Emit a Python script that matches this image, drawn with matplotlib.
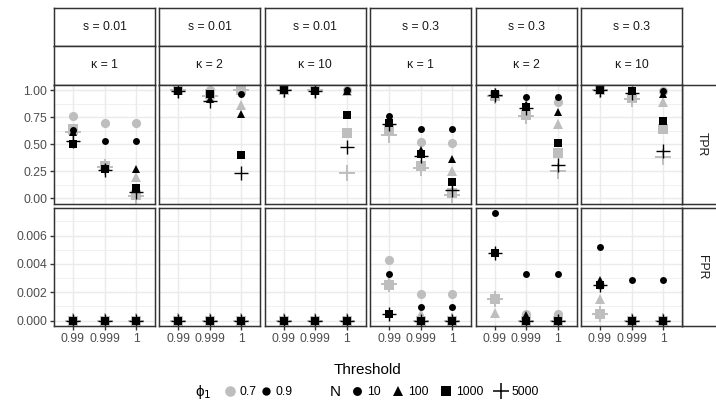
import numpy as np
import matplotlib.pyplot as plt
from matplotlib.lines import Line2D
from matplotlib.ticker import FixedLocator

plt.rcParams['font.family'] = ['Liberation Sans', 'DejaVu Sans']

thresholds = ['0.99', '0.999', '1']
s_labels = ['s = 0.01', 's = 0.01', 's = 0.01', 's = 0.3', 's = 0.3', 's = 0.3']
k_labels = ['κ = 1', 'κ = 2', 'κ = 10', 'κ = 1', 'κ = 2', 'κ = 10']
n_levels = ['10', '100', '1000', '5000']
phi_levels = ['0.7', '0.9']

# panel x N (10, 100, 1000, 5000) x threshold (0.99, 0.999, 1)
tpr_07 = np.array([
    [[0.76, 0.70, 0.70], [0.63, 0.30, 0.20], [0.64, 0.30, 0.03], [0.61, 0.29, 0.02]],
    [[1.00, 1.00, 1.00], [1.00, 0.94, 0.86], [1.00, 0.97, 1.00], [1.00, 0.95, 1.00]],
    [[1.00, 1.00, 1.00], [1.00, 1.00, 0.99], [1.00, 1.00, 0.60], [1.00, 1.00, 0.23]],
    [[0.67, 0.52, 0.51], [0.63, 0.30, 0.25], [0.63, 0.30, 0.05], [0.59, 0.28, 0.03]],
    [[0.96, 0.80, 0.89], [0.95, 0.77, 0.69], [0.95, 0.77, 0.42], [0.95, 0.76, 0.25]],
    [[1.00, 0.95, 0.99], [1.00, 0.93, 0.89], [1.00, 0.93, 0.64], [1.00, 0.92, 0.38]],
])
tpr_09 = np.array([
    [[0.63, 0.53, 0.53], [0.61, 0.28, 0.27], [0.50, 0.27, 0.09], [0.53, 0.26, 0.06]],
    [[1.00, 0.98, 0.97], [0.99, 0.92, 0.78], [0.99, 0.97, 0.40], [0.99, 0.90, 0.23]],
    [[1.00, 1.00, 1.00], [1.00, 1.00, 0.99], [1.00, 0.99, 0.77], [1.00, 0.99, 0.47]],
    [[0.76, 0.64, 0.64], [0.73, 0.45, 0.36], [0.70, 0.41, 0.145], [0.69, 0.39, 0.075]],
    [[0.97, 0.94, 0.94], [0.97, 0.86, 0.80], [0.97, 0.85, 0.51], [0.96, 0.84, 0.305]],
    [[1.00, 0.99, 0.99], [1.00, 0.99, 0.97], [1.00, 0.99, 0.72], [1.00, 0.98, 0.44]],
])
fpr_07 = np.array([
    [[0, 0, 0], [0, 0, 0], [0, 0, 0], [0, 0, 0]],
    [[0, 0, 0], [0, 0, 0], [0, 0, 0], [0, 0, 0]],
    [[0, 0, 0], [0, 0, 0], [0, 0, 0], [0, 0, 0]],
    [[0.0043, 0.0019, 0.0019], [0.0027, 0.0005, 0], [0.0025, 0, 0], [0.0026, 0, 0]],
    [[0.0015, 0.0005, 0.0005], [0.00054, 0, 0], [0.0015, 0, 0], [0.0015, 0, 0]],
    [[0.0025, 0, 0], [0.0015, 0, 0], [0.0005, 0, 0], [0.0005, 0, 0]],
])
fpr_09 = np.array([
    [[0, 0, 0], [0, 0, 0], [0, 0, 0], [0, 0, 0]],
    [[0, 0, 0], [0, 0, 0], [0, 0, 0], [0, 0, 0]],
    [[0, 0, 0], [0, 0, 0], [0, 0, 0], [0, 0, 0]],
    [[0.0033, 0.00097, 0.00097], [0.0005, 0, 0], [0.0005, 0, 0], [0.0005, 0, 0]],
    [[0.0076, 0.0033, 0.0033], [0.0048, 0.0004, 0], [0.0048, 0, 0], [0.0048, 0, 0]],
    [[0.0052, 0.0029, 0.0029], [0.0029, 0, 0], [0.0025, 0, 0], [0.0025, 0, 0]],
])

W, H = 716, 401
fig = plt.figure(figsize=(W / 100, H / 100), dpi=100)


def box(left, top, w, h):
    return [left / W, 1 - (top + h) / H, w / W, h / H]


BORDER = '#333333'
GRID = '#EBEBEB'
TICKC = '#4D4D4D'
colors = {'0.7': '#BEBEBE', '0.9': 'black'}
markers = ['o', '^', 's', '+']
sizes = {'0.7': [6.6, 7.6, 6.8, 11.5], '0.9': [5.0, 6.0, 5.3, 9.5]}
mews = {'0.7': 1.4, '0.9': 1.0}

lefts = [54 + i * 105.4 for i in range(6)]
pw = 101
rows = [(85, 118.5), (207.5, 118.5)]
x = np.arange(1, len(thresholds) + 1)


def strip(rect, text, rot=0):
    a = fig.add_axes(rect)
    a.set_xticks([])
    a.set_yticks([])
    for sp in a.spines.values():
        sp.set_color(BORDER)
        sp.set_linewidth(1.07)
    a.text(0.5, 0.5, text, transform=a.transAxes, ha='center', va='center',
           fontsize=8.8, color='#1A1A1A', rotation=rot)
    return a


for i in range(6):
    strip(box(lefts[i], 8, pw, 38), s_labels[i])
    strip(box(lefts[i], 46, pw, 39), k_labels[i])

fpr_max = max(fpr_07.max(), fpr_09.max())
for r, (metric, d07, d09) in enumerate([('TPR', tpr_07, tpr_09), ('FPR', fpr_07, fpr_09)]):
    top, h = rows[r]
    strip(box(682, top, 40, h), metric, rot=-90)
    for i in range(6):
        ax = fig.add_axes(box(lefts[i], top, pw, h))
        for phi, d in [('0.7', d07), ('0.9', d09)]:
            for k in range(len(n_levels)):
                ax.plot(x, d[i, k], ls='none', marker=markers[k], ms=sizes[phi][k],
                        color=colors[phi], mew=mews[phi] if markers[k] == '+' else 0,
                        zorder=3)
        ax.set_xlim(0.4, 3.6)
        if metric == 'TPR':
            ax.set_ylim(-0.05, 1.05)
            ax.yaxis.set_major_locator(FixedLocator([0, 0.25, 0.5, 0.75, 1.0]))
            ax.yaxis.set_minor_locator(FixedLocator([0.125, 0.375, 0.625, 0.875]))
            ylabels = ['0.00', '0.25', '0.50', '0.75', '1.00']
        else:
            ax.set_ylim(-0.05 * fpr_max, 1.05 * fpr_max)
            ax.yaxis.set_major_locator(FixedLocator([0, 0.002, 0.004, 0.006]))
            ax.yaxis.set_minor_locator(FixedLocator([0.001, 0.003, 0.005, 0.007]))
            ylabels = ['0.000', '0.002', '0.004', '0.006']
        ax.set_xticks(x)
        ax.grid(True, which='major', color=GRID, lw=1.07, zorder=0)
        ax.grid(True, which='minor', axis='y', color=GRID, lw=0.53, zorder=0)
        ax.set_axisbelow(True)
        for sp in ax.spines.values():
            sp.set_color(BORDER)
            sp.set_linewidth(1.07)
            sp.set_zorder(4)
        ax.tick_params(which='minor', length=0)
        ax.tick_params(which='major', length=3, width=1.0, color=BORDER,
                       labelsize=8.8, labelcolor=TICKC, pad=2)
        if i == 0:
            ax.set_yticklabels(ylabels)
        else:
            ax.tick_params(axis='y', length=0, labelleft=False)
        if r == 1:
            ax.set_xticklabels(thresholds)
        else:
            ax.tick_params(axis='x', length=0, labelbottom=False)

fig.text(368 / W, 1 - 370 / H, 'Threshold', ha='center', va='center', fontsize=11)

# legends
fig.text(203 / W, 1 - 392 / H, 'ϕ$_1$', ha='center', va='center', fontsize=11)
phi_handles = [Line2D([], [], ls='none', marker='o', ms=sizes[p][0], color=colors[p])
               for p in phi_levels]
fig.legend(phi_handles, phi_levels, ncol=2, frameon=False, fontsize=8.8,
           loc='center left', bbox_to_anchor=(224 / W, 1 - 392 / H),
           handlelength=1.0, handletextpad=0.25, columnspacing=0.3,
           borderpad=0, borderaxespad=0)
fig.text(335 / W, 1 - 392 / H, 'N', ha='center', va='center', fontsize=11)
n_handles = [Line2D([], [], ls='none', marker=m, ms=s, color='black',
                    mew=1.1 if m == '+' else 0)
             for m, s in zip(markers, [6.4, 7.6, 6.6, 11.5])]
fig.legend(n_handles, n_levels, ncol=4, frameon=False, fontsize=8.8,
           loc='center left', bbox_to_anchor=(349 / W, 1 - 392 / H),
           handlelength=1.3, handletextpad=0.2, columnspacing=0.75,
           borderpad=0, borderaxespad=0)

fig.savefig('out.png', dpi=100)
